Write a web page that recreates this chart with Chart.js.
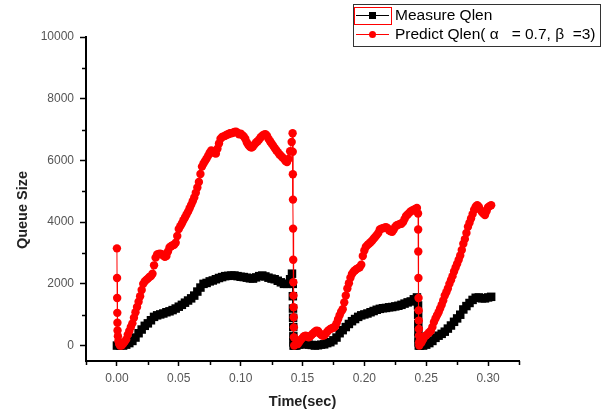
<!DOCTYPE html>
<html>
<head>
<meta charset="utf-8">
<title>Queue Size</title>
<script src="https://cdn.jsdelivr.net/npm/chart.js@4.4.0/dist/chart.umd.min.js"></script>
<style>
  body { margin: 0; background: #fff; }
  #wrap { width: 610px; height: 415px; }
</style>
</head>
<body>
<div id="wrap"><canvas id="chart" width="610" height="415"></canvas></div>
<script>
// Measured queue length (black squares)
const measureTime = [
  0, 0.0025, 0.005, 0.0075, 0.01, 0.0125, 0.015, 0.0175, 0.02, 0.0225,
  0.025, 0.0275, 0.03, 0.0325, 0.035, 0.0375, 0.04, 0.0425, 0.045, 0.0475,
  0.05, 0.0525, 0.055, 0.0575, 0.06, 0.0625, 0.065, 0.0675, 0.07, 0.0725,
  0.075, 0.0775, 0.08, 0.0825, 0.085, 0.0875, 0.09, 0.0925, 0.095, 0.0975,
  0.1, 0.1025, 0.105, 0.1075, 0.11, 0.1125, 0.115, 0.1175, 0.12, 0.1225,
  0.125, 0.1275, 0.13, 0.1325, 0.135, 0.1375, 0.14, 0.1415,
  0.1421, 0.1422, 0.1423, 0.1424, 0.1425, 0.1426, 0.1427, 0.1428,
  0.1435, 0.145, 0.1475, 0.15, 0.1525, 0.155, 0.1575, 0.16, 0.1625, 0.165,
  0.1675, 0.17, 0.1725, 0.175, 0.1775, 0.18, 0.1825, 0.185, 0.1875, 0.19,
  0.1925, 0.195, 0.1975, 0.2, 0.2025, 0.205, 0.2075, 0.21, 0.2125, 0.215,
  0.2175, 0.22, 0.2225, 0.225, 0.2275, 0.23, 0.2325, 0.235, 0.2375, 0.24, 0.2425,
  0.2434, 0.2435, 0.2436, 0.2437, 0.2438, 0.2439, 0.244,
  0.245, 0.2475, 0.25, 0.2525, 0.255, 0.2575, 0.26, 0.2625, 0.265, 0.2675,
  0.27, 0.2725, 0.275, 0.2775, 0.28, 0.2825, 0.285, 0.2875, 0.29, 0.2925,
  0.295, 0.2975, 0.3, 0.3025
];
const measureQlen = [
  0, 0, 0, 30, 80, 150, 260, 400, 520, 640,
  720, 820, 930, 980, 1010, 1040, 1080, 1110, 1150, 1200,
  1260, 1320, 1390, 1460, 1530, 1620, 1750, 1880, 2000, 2030,
  2080, 2110, 2150, 2190, 2220, 2250, 2260, 2270, 2270, 2250,
  2230, 2220, 2200, 2180, 2170, 2210, 2250, 2270, 2240, 2200,
  2170, 2150, 2100, 2050, 2000, 2000, 2150, 2330,
  2000, 1600, 1200, 900, 600, 300, 100, 0,
  0, 0, 30, 50, 50, 30, 20, 0, 10, 30,
  40, 80, 110, 170, 260, 400, 500, 600, 700, 790,
  860, 930, 980, 1010, 1040, 1080, 1120, 1160, 1190, 1210,
  1220, 1240, 1250, 1270, 1290, 1320, 1360, 1400, 1430, 1500, 1560,
  1300, 1000, 700, 450, 250, 100, 0,
  0, 0, 30, 80, 150, 250, 320, 380, 450, 550,
  650, 770, 880, 1000, 1170, 1280, 1380, 1480, 1550, 1560,
  1530, 1530, 1560, 1580
];

// Predicted queue length (red circles)
const predictTime = [
  0, 0.0001, 0.0002, 0.0003, 0.0004, 0.0005, 0.0008, 0.0012, 0.0018, 0.0025,
  0.00375, 0.005, 0.00625, 0.0075, 0.00875,
  0.01, 0.01125, 0.0125, 0.01375, 0.015, 0.01625, 0.0175, 0.01875,
  0.02, 0.02125, 0.0225, 0.02375, 0.025, 0.02625, 0.0275, 0.02875,
  0.03, 0.03125, 0.0325, 0.03375, 0.035, 0.03625, 0.0375, 0.03875,
  0.04, 0.04125, 0.0425, 0.04375, 0.045, 0.04625, 0.0475, 0.04875,
  0.05, 0.05125, 0.0525, 0.05375, 0.055, 0.05625, 0.0575, 0.05875,
  0.06, 0.06125, 0.0625, 0.06375, 0.065, 0.06625, 0.0675, 0.06875,
  0.07, 0.07125, 0.0725, 0.07375, 0.075, 0.07625, 0.0775, 0.07875,
  0.08, 0.08125, 0.0825, 0.08375, 0.085, 0.08625, 0.0875, 0.08875,
  0.09, 0.09125, 0.0925, 0.09375, 0.095, 0.09625, 0.0975, 0.09875,
  0.1, 0.10125, 0.1025, 0.10375, 0.105, 0.10625, 0.1075, 0.10875,
  0.11, 0.11125, 0.1125, 0.11375, 0.115, 0.11625, 0.1175, 0.11875,
  0.12, 0.12125, 0.1225, 0.12375, 0.125, 0.12625, 0.1275, 0.12875,
  0.13, 0.13125, 0.1325, 0.13375, 0.135, 0.13625, 0.1375, 0.13875,
  0.14, 0.14125, 0.142,
  0.1421, 0.1422, 0.1423, 0.1424, 0.1425, 0.1426, 0.1427, 0.1428, 0.1429, 0.143, 0.1431, 0.1433,
  0.145, 0.14625, 0.1475, 0.14875,
  0.15, 0.15125, 0.1525, 0.15375, 0.155, 0.15625, 0.1575, 0.15875,
  0.16, 0.16125, 0.1625, 0.16375, 0.165, 0.16625, 0.1675, 0.16875,
  0.17, 0.17125, 0.1725, 0.17375, 0.175, 0.17625, 0.1775, 0.17875,
  0.18, 0.18125, 0.1825, 0.18375, 0.185, 0.18625, 0.1875, 0.18875,
  0.19, 0.19125, 0.1925, 0.19375, 0.195, 0.19625, 0.1975, 0.19875,
  0.2, 0.20125, 0.2025, 0.20375, 0.205, 0.20625, 0.2075, 0.20875,
  0.21, 0.21125, 0.2125, 0.21375, 0.215, 0.21625, 0.2175, 0.21875,
  0.22, 0.22125, 0.2225, 0.22375, 0.225, 0.22625, 0.2275, 0.22875,
  0.23, 0.23125, 0.2325, 0.23375, 0.235, 0.23625, 0.2375, 0.23875,
  0.24, 0.24125, 0.2425,
  0.2434, 0.2435, 0.2436, 0.2437, 0.2438, 0.2439, 0.244, 0.2441, 0.2442, 0.2443, 0.2444,
  0.245, 0.24625, 0.2475, 0.24875,
  0.25, 0.25125, 0.2525, 0.25375, 0.255, 0.25625, 0.2575, 0.25875,
  0.26, 0.26125, 0.2625, 0.26375, 0.265, 0.26625, 0.2675, 0.26875,
  0.27, 0.27125, 0.2725, 0.27375, 0.275, 0.27625, 0.2775, 0.27875,
  0.28, 0.28125, 0.2825, 0.28375, 0.285, 0.28625, 0.2875, 0.28875,
  0.29, 0.29125, 0.2925, 0.29375, 0.295, 0.29625, 0.2975, 0.29875,
  0.3, 0.30125, 0.3025
];
const predictQlen = [
  3150, 2190, 1540, 1060, 740, 490, 300, 150, 50, 0,
  0, 60, 120, 200, 350,
  470, 600, 720, 900, 1080, 1250, 1420, 1600,
  1800, 2000, 2080, 2130, 2170, 2220, 2250, 2330,
  2600, 2850, 2950, 2970, 2980, 2960, 2920, 2880,
  2900, 3050, 3180, 3220, 3250, 3270, 3330, 3550,
  3780, 3870, 3960, 4060, 4150, 4250, 4340, 4450,
  4560, 4680, 4800, 4950, 5120, 5300, 5560, 5800,
  5900, 5980, 6060, 6150, 6250, 6320, 6280, 6240,
  6220, 6380, 6550, 6700, 6760, 6780, 6800, 6830,
  6850, 6880, 6880, 6900, 6920, 6930, 6900, 6850,
  6870, 6820, 6780, 6700, 6580, 6500, 6440, 6420,
  6450, 6520, 6580, 6620, 6680, 6750, 6800, 6830,
  6850, 6800, 6700, 6620, 6550, 6480, 6400, 6330,
  6270, 6200, 6150, 6100, 6050, 5980, 5950, 6050,
  6300, 6600, 6880,
  6280, 5550, 4730, 3790, 2780, 2050, 1620, 1240, 920, 590, 270, 0,
  80, 50, 120, 200,
  250, 300, 320, 300, 270, 300, 350, 400,
  450, 480, 470, 400, 350, 320, 330, 380,
  450, 500, 540, 560, 580, 620, 720, 850,
  980, 1100, 1180, 1400, 1620, 1850, 2020, 2200,
  2320, 2390, 2440, 2480, 2510, 2540, 2620, 2900,
  3080, 3200, 3260, 3300, 3350, 3400, 3460, 3520,
  3580, 3650, 3760, 3790, 3800, 3820, 3840, 3800,
  3740, 3700, 3690, 3760, 3850, 3900, 3920, 3940,
  3950, 4000, 4100, 4200, 4250, 4300, 4350, 4380,
  4400, 4430, 4460,
  4280, 3760, 3050, 2190, 1540, 1140, 810, 540, 320, 110, 0,
  60, 110, 200, 300,
  330, 380, 430, 480, 600, 760, 880, 980,
  1080, 1200, 1320, 1460, 1620, 1730, 1850, 2000,
  2120, 2250, 2400, 2530, 2650, 2780, 2920, 3100,
  3300, 3450, 3650, 3850, 3980, 4120, 4260, 4400,
  4500, 4550, 4500, 4400, 4330, 4280, 4230, 4350,
  4480, 4520, 4550
];

// Axis ticks
const xMajorTicks = [0, 0.05, 0.1, 0.15, 0.2, 0.25, 0.3];
const xMinorTicks = [-0.025, 0.025, 0.075, 0.125, 0.175, 0.225, 0.275, 0.325];
const yMajorTicks = [0, 2000, 4000, 6000, 8000, 10000];
const yMinorTicks = [1000, 3000, 5000, 7000, 9000];

const legendLabels = ['Measure Qlen', 'Predict Qlen( \u03b1   = 0.7, \u03b2  =3)'];
const axisTitles = { x: 'Time(sec)', y: 'Queue Size' };

const FONT = "Arial, 'Liberation Sans', sans-serif";

function toPoints(xs, ys) {
    return xs.map((x, i) => ({ x: x, y: ys[i] }));
}

// minor ticks, y title and the boxed legend
const decorPlugin = {
    id: 'decor',
    afterDraw(chart) {
        const ctx = chart.ctx;
        const xs = chart.scales.x;
        const ys = chart.scales.y;
        ctx.save();

        // minor ticks
        ctx.strokeStyle = '#000';
        ctx.lineWidth = 1.5;
        ctx.beginPath();
        xMinorTicks.forEach(v => {
            const px = Math.round(xs.getPixelForValue(v)) + 0.5;
            ctx.moveTo(px, ys.bottom);
            ctx.lineTo(px, ys.bottom + 4);
        });
        yMinorTicks.forEach(v => {
            const py = Math.round(ys.getPixelForValue(v)) + 0.5;
            ctx.moveTo(xs.left, py);
            ctx.lineTo(xs.left - 4, py);
        });
        ctx.stroke();

        // y axis title
        ctx.fillStyle = '#222';
        ctx.font = 'bold 14.5px ' + FONT;
        ctx.textAlign = 'center';
        ctx.textBaseline = 'middle';
        ctx.translate(23, 210);
        ctx.rotate(-Math.PI / 2);
        ctx.fillText(axisTitles.y, 0, 0);
        ctx.setTransform(1, 0, 0, 1, 0, 0);

        // legend box
        ctx.strokeStyle = '#333';
        ctx.lineWidth = 1;
        ctx.strokeRect(353.5, 4.5, 247, 42);

        // row 1 - measure
        ctx.strokeStyle = '#000';
        ctx.beginPath();
        ctx.moveTo(356, 15.5);
        ctx.lineTo(389, 15.5);
        ctx.stroke();
        ctx.fillStyle = '#000';
        ctx.fillRect(369, 12, 7, 7);
        ctx.strokeStyle = '#ff0000';
        ctx.strokeRect(354.5, 7.5, 37, 17);

        // row 2 - predict
        ctx.strokeStyle = '#ff0000';
        ctx.beginPath();
        ctx.moveTo(356, 34.5);
        ctx.lineTo(389, 34.5);
        ctx.stroke();
        ctx.fillStyle = '#ff0000';
        ctx.beginPath();
        ctx.arc(372.5, 34.5, 3.5, 0, Math.PI * 2);
        ctx.fill();

        ctx.fillStyle = '#000';
        ctx.font = '15.5px ' + FONT;
        ctx.textAlign = 'left';
        ctx.textBaseline = 'middle';
        ctx.fillText(legendLabels[0], 395, 16);
        ctx.fillText(legendLabels[1], 395, 35);

        ctx.restore();
    }
};

const ctx = document.getElementById('chart').getContext('2d');
new Chart(ctx, {
    type: 'line',
    data: {
        datasets: [
            {
                label: legendLabels[0],
                data: toPoints(measureTime, measureQlen),
                borderColor: '#000',
                backgroundColor: '#000',
                borderWidth: 1,
                pointStyle: 'rect',
                pointRadius: 6,
                pointBorderWidth: 0,
                pointBackgroundColor: '#000',
                order: 1
            },
            {
                label: legendLabels[1],
                data: toPoints(predictTime, predictQlen),
                borderColor: '#ff0000',
                backgroundColor: '#ff0000',
                borderWidth: 1,
                pointStyle: 'circle',
                pointRadius: 4.2,
                pointBorderWidth: 0,
                pointBackgroundColor: '#ff0000',
                order: 0
            }
        ]
    },
    options: {
        responsive: false,
        animation: false,
        layout: { padding: { left: 0, right: 91, top: 37, bottom: 0 } },
        plugins: {
            legend: { display: false },
            tooltip: { enabled: false }
        },
        scales: {
            x: {
                type: 'linear',
                min: -0.025,
                max: 0.325,
                afterFit: s => { s.height = 54; },
                afterBuildTicks: s => { s.ticks = xMajorTicks.map(v => ({ value: v })); },
                grid: { drawOnChartArea: false, tickLength: 5, tickWidth: 1.5, tickColor: '#000' },
                border: { color: '#000', width: 2 },
                ticks: {
                    padding: 5,
                    color: '#555',
                    font: { family: FONT, size: 12 },
                    maxRotation: 0,
                    callback: v => v.toFixed(2)
                },
                title: {
                    display: true,
                    text: axisTitles.x,
                    color: '#222',
                    font: { family: FONT, size: 14.5, weight: 'bold' },
                    padding: { top: 0, bottom: 4.6 }
                }
            },
            y: {
                min: -500,
                max: 10000,
                afterFit: s => { s.width = 86; },
                afterBuildTicks: s => { s.ticks = yMajorTicks.map(v => ({ value: v })); },
                grid: { drawOnChartArea: false, tickLength: 6, tickWidth: 1.5, tickColor: '#000' },
                border: { color: '#000', width: 2 },
                ticks: {
                    padding: 6,
                    color: '#555',
                    font: { family: FONT, size: 12 },
                    callback: v => String(v)
                }
            }
        }
    },
    plugins: [decorPlugin]
});
</script>
</body>
</html>
